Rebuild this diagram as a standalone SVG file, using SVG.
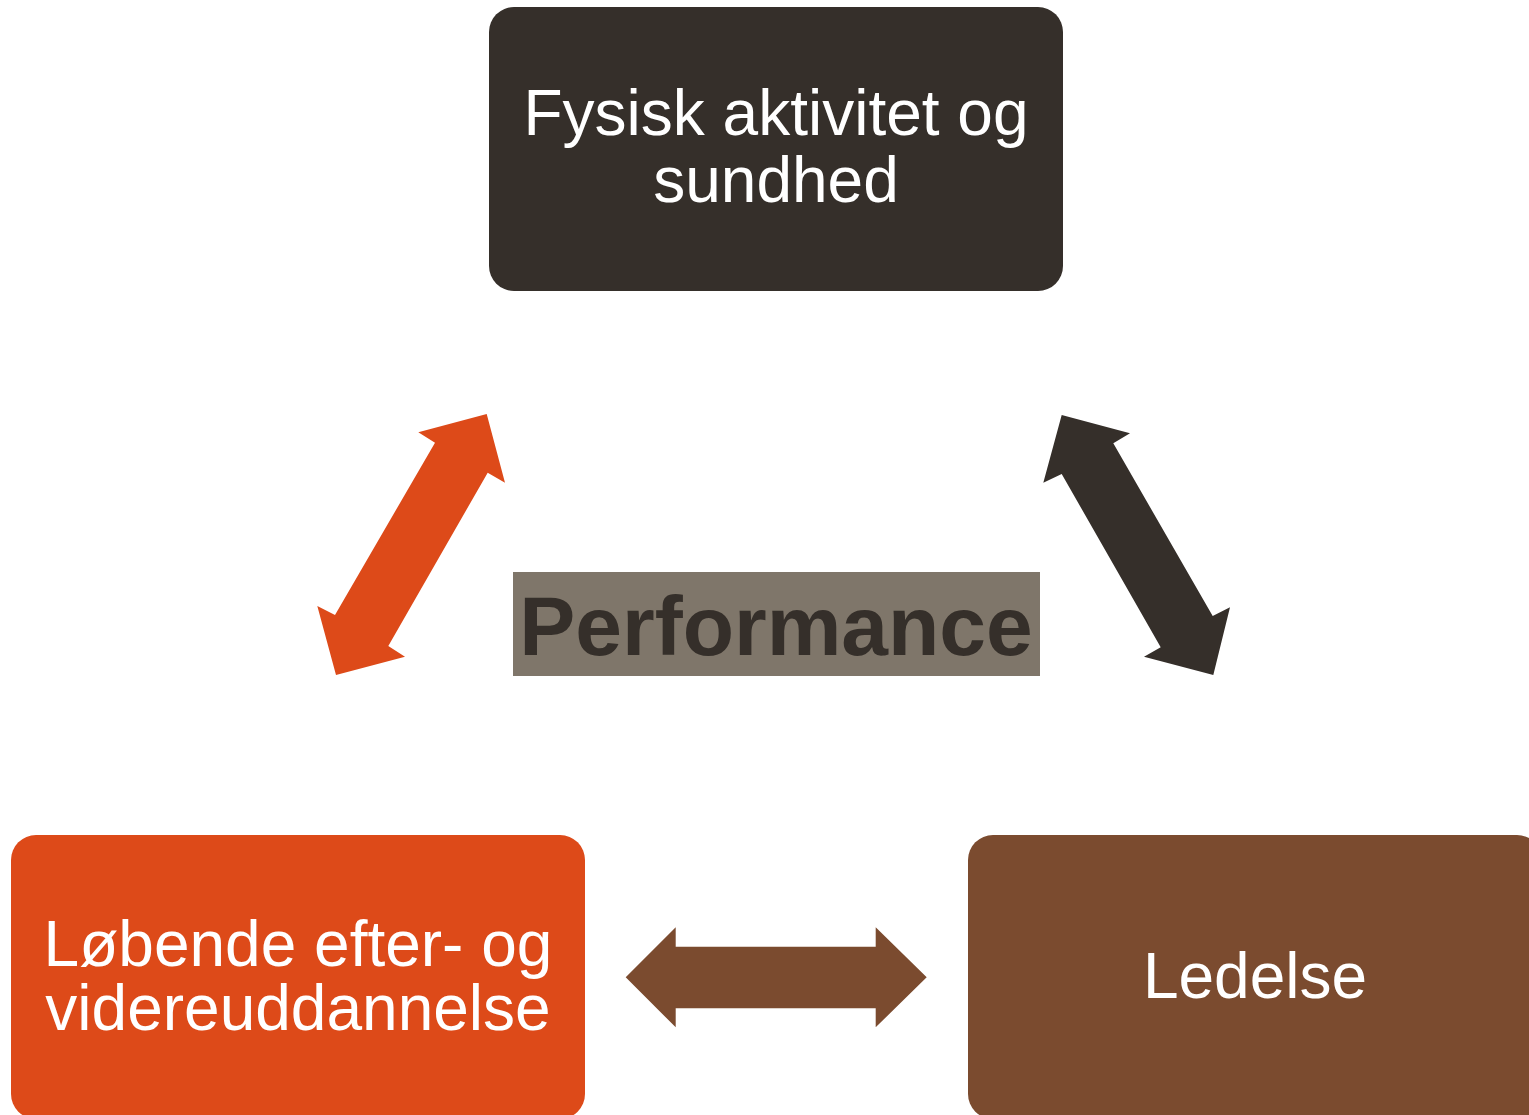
<svg xmlns="http://www.w3.org/2000/svg" width="1529" height="1115" viewBox="0 0 1529 1115">
<style>
.lbl{font-family:"Liberation Sans",Arial,sans-serif;font-size:64px;fill:#ffffff;text-anchor:middle}
.perf{font-family:"Liberation Sans",Arial,sans-serif;font-size:84px;font-weight:bold;fill:#352f2a;text-anchor:middle}
</style>
<rect width="1529" height="1115" fill="#ffffff"/>
<g id="connectors">
<polygon fill="#dd4a19" points="486.7,414 505,482.7 487.7,472.7 388.3,646 405,656.7 336,675 317.3,606 335,615 435,442.7 418.3,432.3"/>
<polygon fill="#352f2a" points="1061.7,415 1130,433.3 1113.3,443.3 1212.7,616 1230,607.3 1213.3,675 1144,656.7 1160.7,647.3 1061.7,474 1043.3,482.7"/>
<polygon fill="#7b4b2f" points="625.7,977.3 675.7,927.3 675.7,946.7 875.7,946.7 875.7,927.3 926.7,977.3 875.7,1027.3 875.7,1008.3 675.7,1008.3 675.7,1027.3"/>
</g>
<g id="node-top">
<rect x="489" y="7" width="574" height="284" rx="25" fill="#352f2a"/>
<text class="lbl" x="776" y="135">Fysisk aktivitet og</text>
<text class="lbl" x="776" y="202">sundhed</text>
</g>
<g id="node-left">
<rect x="11" y="835" width="574" height="284" rx="25" fill="#dd4a19"/>
<text class="lbl" x="298" y="966">Løbende efter- og</text>
<text class="lbl" x="298" y="1030">videreuddannelse</text>
</g>
<g id="node-right">
<rect x="968" y="835" width="574" height="284" rx="25" fill="#7b4b2f"/>
<text class="lbl" x="1255" y="998">Ledelse</text>
</g>
<g id="node-center">
<rect x="513" y="572" width="527" height="104" fill="#7f766a"/>
<text class="perf" x="776" y="655">Performance</text>
</g>
</svg>
